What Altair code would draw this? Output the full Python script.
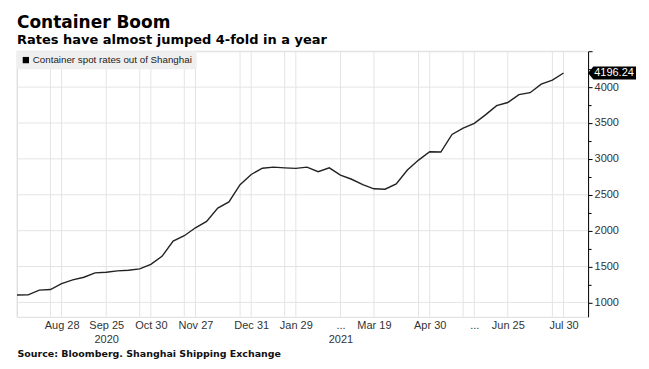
import altair as alt
import pandas as pd

# Weekly observations (index along the ordinal time axis)
dates = [
    "Jul 31", "Aug 7", "Aug 14", "Aug 21", "Aug 28", "Sep 4", "Sep 11", "Sep 18", "Sep 25",
    "Oct 9", "Oct 16", "Oct 23", "Oct 30", "Nov 6", "Nov 13", "Nov 20", "Nov 27",
    "Dec 4", "Dec 11", "Dec 18", "Dec 25", "Dec 31", "Jan 8", "Jan 15", "Jan 22", "Jan 29",
    "Feb 5", "Feb 12", "Feb 19", "Feb 26", "Mar 5", "Mar 12", "Mar 19", "Mar 26",
    "Apr 9", "Apr 16", "Apr 23", "Apr 30", "May 7", "May 14", "May 21", "May 28",
    "Jun 4", "Jun 18", "Jun 25", "Jul 2", "Jul 9", "Jul 16", "Jul 23", "Jul 30",
]
rates = [
    1103, 1105, 1171, 1180, 1263, 1315, 1351, 1412, 1420,
    1440, 1448, 1467, 1531, 1642, 1856, 1929, 2040,
    2129, 2315, 2400, 2641, 2783, 2870, 2885, 2875, 2868,
    2885, 2821, 2875, 2775, 2716, 2640, 2583, 2577,
    2650, 2845, 2983, 3100, 3095, 3340, 3427, 3495,
    3613, 3742, 3785, 3895, 3922, 4042, 4097, 4196.24,
]

# Axis labels (index -> text); year shown as a second line
label_idx = [4, 8, 12, 16, 21, 25, 29, 32, 37, 41, 44, 49]
label_txt = ["Aug 28", "Sep 25", "Oct 30", "Nov 27", "Dec 31", "Jan 29",
             "...", "Mar 19", "Apr 30", "...", "Jun 25", "Jul 30"]
year_idx = [8, 29]
year_txt = ["2020", "2021"]

grid_idx = [0, 3, 4, 8, 11, 12, 15, 16, 20, 21, 24, 25, 29, 32, 36, 37, 40, 41, 44, 48, 49]
y_grid = [1000, 1500, 2000, 2500, 3000, 3500, 4000, 4500]
y_ticks = [1000, 1250, 1500, 1750, 2000, 2250, 2500, 2750, 3000, 3250, 3500, 3750, 4000, 4250, 4500]

series_name = "Container spot rates out of Shanghai"

df = pd.DataFrame({"i": list(range(len(rates))), "date": dates, "value": rates,
                   "series": series_name})
last = df.tail(1)

# Build label expression
lab = []
for k in range(len(rates)):
    if k in label_idx:
        t = label_txt[label_idx.index(k)]
        if k in year_idx:
            lab.append("['%s','%s']" % (t, year_txt[year_idx.index(k)]))
        else:
            lab.append("'%s'" % t)
    else:
        lab.append("''")
label_expr = "[" + ",".join(lab) + "][datum.value]"

XMAX = 51.2
xs = alt.Scale(domain=[0, XMAX], nice=False, zero=False)
ys = alt.Scale(domain=[800, 4500], nice=False, zero=False)

FONT = "Liberation Sans"

x_axis = alt.Axis(values=label_idx, labelExpr=label_expr, grid=False,
                  domain=False, ticks=False, labelPadding=3,
                  labelFont=FONT, labelFontSize=11, labelColor="#333333",
                  labelOverlap=False, labelFlush=False, labelLineHeight=14,
                  title="Source: Bloomberg. Shanghai Shipping Exchange",
                  titleAnchor="start", titleAlign="left",
                  titleFont="DejaVu Sans", titleFontWeight="bold",
                  titleFontSize=9.5, titleColor="#111111", titlePadding=4)
y_axis = alt.Axis(orient="right", values=y_ticks, format="d",
                  labelExpr="(datum.value % 500 == 0 && datum.value <= 4000) ? datum.label : ''",
                  grid=False, domainColor="#000000", domainWidth=1,
                  tickColor="#000000", tickWidth=1,
                  tickSize={"condition": {"test": "datum.value % 500 == 0", "value": 4}, "value": 3},
                  labelPadding=2, labelFont=FONT, labelFontSize=11,
                  labelColor="#333333", labelOverlap=False, title=None)

vgrid = alt.Chart(pd.DataFrame({"g": grid_idx})).mark_rule(
    color="#e4e4e4", strokeWidth=1
).encode(x=alt.X("g:Q", scale=xs, axis=x_axis))

hgrid = alt.Chart(pd.DataFrame({"g": y_grid})).mark_rule(
    color="#e4e4e4", strokeWidth=1
).encode(y=alt.Y("g:Q", scale=ys, axis=y_axis))

line = alt.Chart(df).mark_line(strokeWidth=1.4, color="#222222").encode(
    x=alt.X("i:Q", scale=xs, axis=x_axis),
    y=alt.Y("value:Q", scale=ys, axis=y_axis),
    color=alt.Color("series:N", scale=alt.Scale(range=["#222222"]),
                    legend=alt.Legend(orient="top-left", title=None, offset=0,
                                      fillColor="#efefef", padding=4,
                                      symbolType="square", symbolSize=40,
                                      symbolFillColor="#000000", symbolStrokeWidth=0,
                                      labelFont=FONT, labelFontSize=9.8, labelLimit=400,
                                      labelColor="#222222", labelOffset=2)),
)

tag = alt.Chart(last).mark_point(
    shape="M -1 0 L -0.78 -0.27 L 1 -0.27 L 1 0.27 L -0.78 0.27 Z",
    filled=True, color="#000000", opacity=1, size=2304, xOffset=24, clip=False,
).encode(x=alt.datum(XMAX, scale=xs, axis=x_axis), y=alt.Y("value:Q", scale=ys, axis=y_axis))

tag_text = alt.Chart(last).mark_text(
    color="#ffffff", font=FONT, fontSize=11, align="center", baseline="middle",
    dx=26, clip=False,
).encode(x=alt.datum(XMAX, scale=xs, axis=x_axis), y=alt.Y("value:Q", scale=ys, axis=y_axis),
         text=alt.Text("value:Q", format=".2f"))

chart = alt.layer(vgrid, hgrid, line, tag, tag_text).properties(
    width=572, height=266,
    padding={"left": 6, "top": 6, "right": 5, "bottom": 2},
    title=alt.TitleParams(
        "Container Boom",
        subtitle="Rates have almost jumped 4-fold in a year",
        anchor="start", frame="group",
        font="DejaVu Sans", fontSize=17, fontWeight="bold", color="#000000",
        subtitleFont="DejaVu Sans", subtitleFontSize=13, subtitleFontWeight="bold",
        subtitleColor="#000000", subtitlePadding=2, offset=-3,
    ),
).configure_view(stroke=None).configure(background="#ffffff")

chart.save("out.html", embed_options={"renderer": "svg", "actions": False})
